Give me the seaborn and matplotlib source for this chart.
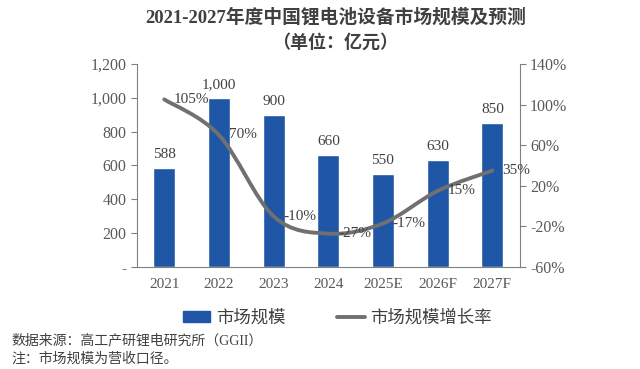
import numpy as np
import pandas as pd
import matplotlib
matplotlib.use("Agg")
import matplotlib.pyplot as plt
import seaborn as sns
from matplotlib.path import Path
from matplotlib.patches import PathPatch, Patch
from matplotlib.lines import Line2D

years = ["2021", "2022", "2023", "2024", "2025E", "2026F", "2027F"]
market = [588, 1000, 900, 660, 550, 630, 850]
growth = [105, 70, -10, -27, -17, 15, 35]
left_ticks = [0, 200, 400, 600, 800, 1000, 1200]
left_labels = ["-", "200", "400", "600", "800", "1,000", "1,200"]
right_ticks = [-60, -20, 20, 60, 100, 140]

sns.set_style("white")
plt.rcParams["font.family"] = ["Liberation Serif", "Noto Sans CJK SC"]

bar_color = "#1f56a5"
line_color = "#707070"
txt = "#595959"

df = pd.DataFrame({"year": years, "market": market, "growth": growth})

fig = plt.figure(figsize=(6.4, 3.69), dpi=100)
ax = fig.add_axes([0.214, 0.276, 0.598, 0.551])
sns.barplot(data=df, x="year", y="market", color=bar_color, width=0.4,
            saturation=1, ax=ax)
ax.set_xlim(-0.5, 6.5)
ax.set_ylim(0, 1200)
ax.set_yticks(left_ticks)
ax.set_yticklabels(left_labels)
ax.set_xlabel("")
ax.set_ylabel("")
for i, v in enumerate(market):
    ax.annotate(f"{v:,}", (i, v), xytext=(0, 5), textcoords="offset points",
                ha="center", va="bottom", fontsize=11, color="#404040")

ax2 = ax.twinx()
ax2.set_ylim(-60, 140)
ax2.set_yticks(right_ticks)
ax2.set_yticklabels([f"{t}%" for t in right_ticks])

# smoothed line (Catmull-Rom as Bezier segments)
xs = np.arange(len(growth), dtype=float)
ys = np.array(growth, dtype=float)
pts = np.column_stack([xs, ys])
verts = [pts[0]]
codes = [Path.MOVETO]
n = len(pts)
for i in range(n - 1):
    p0 = pts[i - 1] if i > 0 else pts[i]
    p1 = pts[i]
    p2 = pts[i + 1]
    p3 = pts[i + 2] if i + 2 < n else pts[i + 1]
    c1 = p1 + (p2 - p0) / 6
    c2 = p2 - (p3 - p1) / 6
    verts += [c1, c2, p2]
    codes += [Path.CURVE4] * 3
ax2.add_patch(PathPatch(Path(verts, codes), fill=False, edgecolor=line_color,
                        lw=2.8, capstyle="round", zorder=3))
for i, g in enumerate(growth):
    ax2.annotate(f"{g}%", (i, g), xytext=(7, 0), textcoords="offset points",
                 ha="left", va="center", fontsize=11, color="#404040")

for a in (ax, ax2):
    for s in a.spines.values():
        s.set_color("#808080")
    a.spines["top"].set_visible(False)
    a.tick_params(axis="y", colors="#808080", labelcolor=txt, labelsize=11.5,
                  length=4, width=0.8, direction="out")
    a.grid(False)
ax2.spines["left"].set_visible(False)
ax.spines["right"].set_visible(False)
ax2.spines["bottom"].set_visible(False)

ax.tick_params(axis="x", which="major", length=0, labelcolor=txt,
               labelsize=11, pad=8)
ax.set_xticks(np.arange(-0.5, 7, 1), minor=True)
ax.tick_params(axis="x", which="minor", length=4, color="#808080", width=0.8)

fig.text(0.524, 0.952, "2021-2027年度中国锂电池设备市场规模及预测", ha="center",
         va="center", fontsize=13.5, fontweight="bold", color="#404040")
fig.text(0.524, 0.883, "（单位：亿元）", ha="center", va="center",
         fontsize=13, fontweight="bold", color="#404040")

handles = [Patch(color=bar_color), Line2D([], [], color=line_color, lw=2.8)]
fig.legend(handles, ["市场规模", "市场规模增长率"], loc="center",
           bbox_to_anchor=(0.527, 0.138), ncol=2, frameon=False,
           fontsize=12.5, handlelength=1.6, handleheight=0.6,
           handletextpad=0.3, columnspacing=3.0, labelcolor="#404040")

fig.text(0.018, 0.078, "数据来源：高工产研锂电研究所（GGII）", ha="left",
         va="center", fontsize=10, color="#404040")
fig.text(0.018, 0.028, "注：市场规模为营收口径。", ha="left", va="center",
         fontsize=10, color="#404040")

fig.savefig("out.png", dpi=100)
